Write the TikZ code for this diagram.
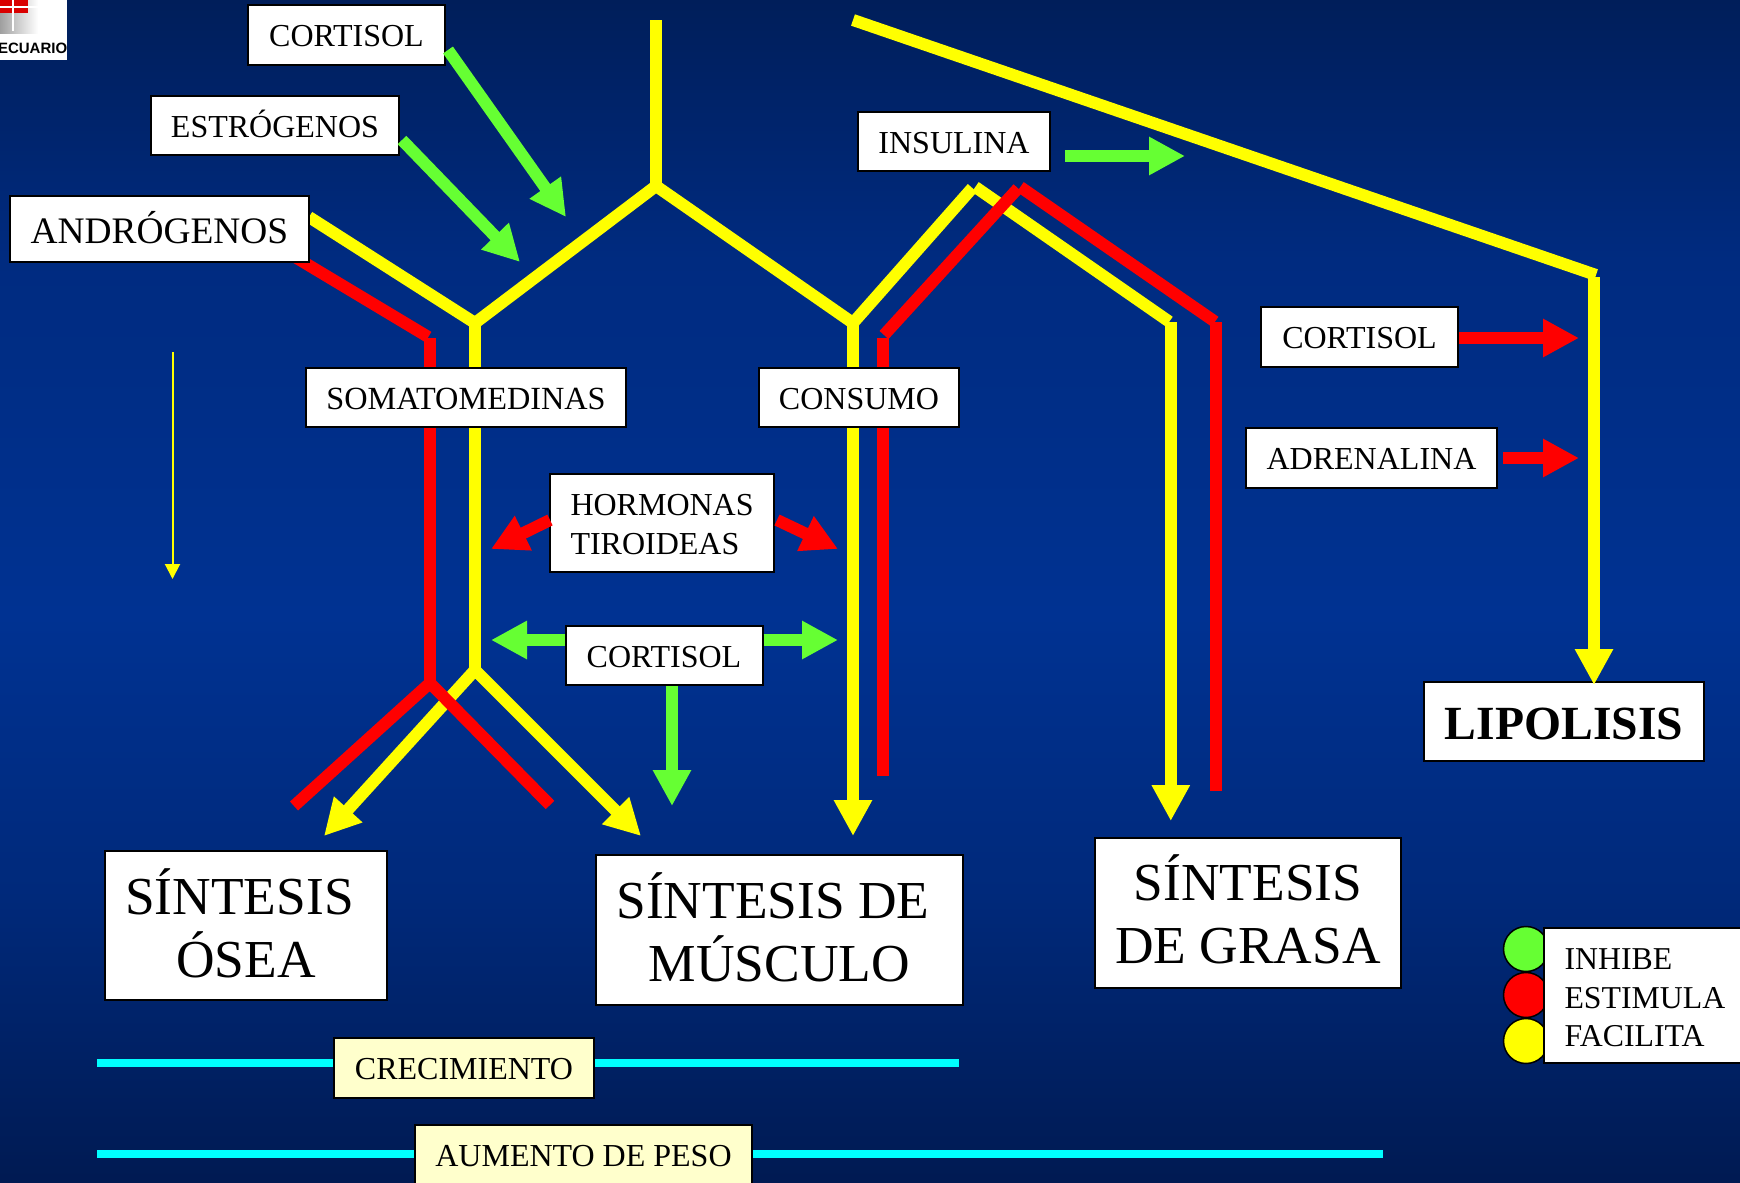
\documentclass[tikz,border=0pt]{standalone}
\usepackage{fontspec}
\setmainfont{Liberation Serif}
\setsansfont{Liberation Sans}
\usetikzlibrary{ arrows.meta, % For the triangle heads
                 backgrounds, % For keeping the lines under the boxes
               }
\definecolor{navy}{HTML}{001E5A}
\definecolor{upperblue}{HTML}{002B80}
\definecolor{midblue}{HTML}{003292}
\definecolor{lowerblue}{HTML}{00297A}
\definecolor{deepnavy}{HTML}{001A52}
\definecolor{leaf}{HTML}{66FF33}
\definecolor{cream}{HTML}{FFFFCC}
\definecolor{sun}{RGB}{255,255,0}
\definecolor{scarlet}{RGB}{255,0,0}
\definecolor{sky}{RGB}{0,255,255}
\pgfdeclareverticalshading{slide}{100bp}{color(0bp)=(deepnavy); color(25bp)=(deepnavy); color(37bp)=(lowerblue);
  color(49bp)=(midblue); color(64bp)=(upperblue); color(75bp)=(navy); color(100bp)=(navy)}
\tikzstyle{facilita} = [draw=sun, line width=12pt]
\tikzstyle{estimula} = [draw=scarlet, line width=12pt]
\tikzstyle{inhibe} = [draw=leaf, line width=12pt]
\tikzstyle{horizon} = [draw=sky, line width=8pt]
\tikzstyle{headed} = [-{Triangle[length=36pt, width=36pt]}]
\tikzstyle{twoheaded} = [{Triangle[length=36pt, width=36pt]}-{Triangle[length=36pt, width=36pt]}]
\tikzstyle{textbox} = [rectangle, draw=black, fill=white, line width=2pt, inner sep=0pt,
                       text height=23.5pt, text depth=0pt, font=\fontsize{32}{39}\selectfont]
\tikzstyle{bigbox} = [rectangle, draw=black, fill=white, line width=2pt, inner sep=0pt,
                      align=center, font=\fontsize{53.4}{63}\selectfont]
\tikzstyle{notebox} = [rectangle, draw=black, fill=white, line width=2pt, inner ysep=0pt, inner xsep=20.5pt,
                       align=left]
\tikzstyle{dot} = [circle, draw=black, line width=1.5pt, minimum width=45pt, inner sep=0pt]

\begin{document}
\begin{tikzpicture}[x=1pt, y=-1pt]
  \useasboundingbox (0, 0) rectangle (1740, 1183);

  % junctions and free ends
  \coordinate (topstart) at (656, 20);
  \coordinate (fork) at (656, 186);
  \coordinate (forkl) at (475, 323);
  \coordinate (forkr) at (853, 323);
  \coordinate (splity) at (475, 670);
  \coordinate (bonetip) at (324, 836);
  \coordinate (muscletip) at (641, 836);
  \coordinate (consumotip) at (853, 836);
  \coordinate (redbend) at (428.3, 337);
  \coordinate (redtop) at (430, 338);
  \coordinate (redsplit) at (430, 683);
  \coordinate (redbone) at (294, 806);
  \coordinate (redmuscle) at (550, 805);
  \coordinate (yellowpeaka) at (972.3, 188);
  \coordinate (yellowpeakb) at (975.3, 187);
  \coordinate (yellowbend) at (1169.3, 321.7);
  \coordinate (yellowfoot) at (1170.8, 322.3);
  \coordinate (fattip) at (1170.8, 821);
  \coordinate (redstart) at (884, 335);
  \coordinate (redfoot) at (883, 338);
  \coordinate (redend) at (883, 776);
  \coordinate (redpeaka) at (1018, 188.3);
  \coordinate (redpeakb) at (1020.3, 187);
  \coordinate (redbendb) at (1215, 321.7);
  \coordinate (redfootb) at (1216, 322.3);
  \coordinate (redendb) at (1216, 791);
  \coordinate (longstart) at (853, 20);
  \coordinate (longend) at (1596, 275);
  \coordinate (lipofoot) at (1594, 277);
  \coordinate (lipotip) at (1594, 685);
  \coordinate (ya) at (309, 217);
  \coordinate (ra) at (295, 257);
  \coordinate (tipa) at (566, 217);
  \coordinate (tipb) at (520, 262);
  \coordinate (tipc) at (1185, 156);
  \coordinate (tipd) at (1579, 338);
  \coordinate (tipe) at (1579, 458);
  \coordinate (tipf) at (491, 549);
  \coordinate (tipg) at (838, 549);
  \coordinate (tiph) at (491, 640);
  \coordinate (tipi) at (838, 640);
  \coordinate (tipj) at (672, 806);
  \coordinate (thina) at (172.5, 352);
  \coordinate (thinb) at (172.5, 579);
  \coordinate (cyana) at (97, 1063);
  \coordinate (cyanb) at (959, 1063);
  \coordinate (cyanc) at (97, 1154);
  \coordinate (cyand) at (1383, 1154);

  % boxes
  \node (cortisola) [textbox, minimum width=197pt, minimum height=60pt] at (346.5, 35) {CORTISOL};
  \node (estrogenos) [textbox, minimum width=248pt, minimum height=59pt] at (275, 125.5) {ESTRÓGENOS};
  \node (androgenos) [textbox, minimum width=299pt, minimum height=66pt, text height=28pt,
                      font=\fontsize{37.4}{44}\selectfont] at (159.5, 229) {ANDRÓGENOS};
  \node (somato) [textbox, minimum width=320pt, minimum height=59pt,
                  font=\fontsize{32.3}{39}\selectfont] at (466, 397.5) {SOMATOMEDINAS};
  \node (consumo) [textbox, minimum width=200pt, minimum height=59pt] at (859, 397.5) {CONSUMO};
  \node (insulina) [textbox, minimum width=192pt, minimum height=59pt] at (954, 141.5) {INSULINA};
  \node (cortisolb) [textbox, minimum width=197pt, minimum height=60pt] at (1359.5, 337) {CORTISOL};
  \node (adrenalina) [textbox, minimum width=251pt, minimum height=60pt] at (1371.5, 458) {ADRENALINA};
  \node (hormonas) [notebox, text width=183pt, minimum height=98pt, text height=25pt,
                    font=\fontsize{32}{39}\selectfont] at (662, 523) {HORMONAS\\TIROIDEAS};
  \node (cortisolc) [textbox, minimum width=197pt, minimum height=59pt] at (664, 655.5) {CORTISOL};
  \node (osea) [bigbox, minimum width=282pt, minimum height=149pt, text depth=5pt] at (246, 925.5) {SÍNTESIS\hspace*{13pt}\\ÓSEA};
  \node (musculo) [bigbox, minimum width=367pt, minimum height=150pt, text depth=6.6pt] at (779.5, 930) {SÍNTESIS DE\hspace*{13pt}\\MÚSCULO};
  \node (grasa) [bigbox, minimum width=306pt, minimum height=150pt, text depth=7pt] at (1248, 913) {SÍNTESIS\\DE GRASA};
  \node (lipolisis) [textbox, minimum width=280pt, minimum height=79pt, text height=36.4pt,
                     font=\fontsize{47.6}{56}\selectfont\bfseries] at (1564, 721.5) {LIPOLISIS};
  \node (crecimiento) [textbox, fill=cream, minimum width=260pt, minimum height=60pt] at (464, 1068) {CRECIMIENTO};
  \node (aumento) [textbox, fill=cream, minimum width=337pt, minimum height=60pt] at (583.5, 1155) {AUMENTO DE PESO};

  % key
  \node (inhibedot) [dot, fill=leaf] at (1526, 949) {};
  \node (estimuladot) [dot, fill=scarlet] at (1526, 995) {};
  \node (facilitadot) [dot, fill=sun] at (1526, 1041) {};
  \node (key) [notebox, anchor=west, text width=230pt, minimum height=135pt, text height=26pt,
               font=\fontsize{31.8}{38.5}\selectfont] at (1543, 995.5) {INHIBE\\ESTIMULA\\FACILITA};

  % corner mark
  \node (logo) [rectangle, fill=white, anchor=north west, minimum width=67pt, minimum height=60pt, inner sep=0pt] at (0, 0) {};
  \shade [left color=gray!75, right color=white] (0, 0) rectangle (38, 33);
  \fill [scarlet!85!black] (0, 0) rectangle (28, 13);
  \draw [white, line width=1.5pt] (13, 0) -- (13, 31) (0, 7) -- (38, 7);
  \node (logotext) [anchor=east, inner sep=0pt, font=\sffamily\bfseries\fontsize{15}{15}\selectfont] at (logo.east |- 0, 48) {ECUARIO};

  \begin{scope}[on background layer]
    \shade [shading=slide] (0, 0) rectangle (1740, 1183);

    \draw [facilita] (topstart) -- (fork);
    \draw [facilita] (ya) -- (forkl) -- (fork) -- (forkr) -- (yellowpeaka);
    \draw [facilita] (forkl) -- (somato.north -| forkl);
    \draw [facilita] (somato.south -| forkl) -- (splity);
    \draw [facilita, twoheaded] (bonetip) -- (splity) -- (muscletip);
    \draw [facilita] (forkr) -- (consumo.north -| forkr);
    \draw [facilita, headed] (consumo.south -| forkr) -- (consumotip);
    \draw [facilita] (yellowpeakb) -- (yellowbend);
    \draw [facilita, headed] (yellowfoot) -- (fattip);
    \draw [facilita] (longstart) -- (longend);

    \draw [estimula] (ra) -- (redbend);
    \draw [estimula] (redtop) -- (somato.north -| redtop);
    \draw [estimula] (somato.south -| redtop) -- (redsplit);
    \draw [estimula] (redbone) -- (redsplit) -- (redmuscle);
    \draw [estimula] (redstart) -- (redpeaka);
    \draw [estimula] (redpeakb) -- (redbendb);
    \draw [estimula] (redfoot) -- (consumo.north -| redfoot);
    \draw [estimula] (consumo.south -| redfoot) -- (redend);
    \draw [estimula] (redfootb) -- (redendb);

    \draw [horizon] (cyana) -- (crecimiento.west |- cyana);
    \draw [horizon] (crecimiento.east |- cyanb) -- (cyanb);
    \draw [horizon] (cyanc) -- (aumento.west |- cyanc);
    \draw [horizon] (aumento.east |- cyand) -- (cyand);
  \end{scope}

  \draw [facilita, headed] (lipofoot) -- (lipotip);
  \draw [draw=sun, line width=2pt, -{Triangle[length=15pt, width=15pt]}] (thina) -- (thinb);

  \draw [inhibe, headed] (448, 50) -- (tipa);
  \draw [inhibe, headed] (402, 140) -- (tipb);
  \draw [inhibe, headed] (1065, 156) -- (tipc);
  \draw [inhibe, headed] (cortisolc.west |- tiph) -- (tiph);
  \draw [inhibe, headed] (cortisolc.east |- tipi) -- (tipi);
  \draw [inhibe, headed] (cortisolc.south -| tipj) -- (tipj);

  \draw [estimula, headed] (cortisolb.east |- tipd) -- (tipd);
  \draw [estimula, headed] (1503, 458) -- (tipe);
  \draw [estimula, headed] (550, 520) -- (tipf);
  \draw [estimula, headed] (777, 520) -- (tipg);
\end{tikzpicture}
\end{document}
